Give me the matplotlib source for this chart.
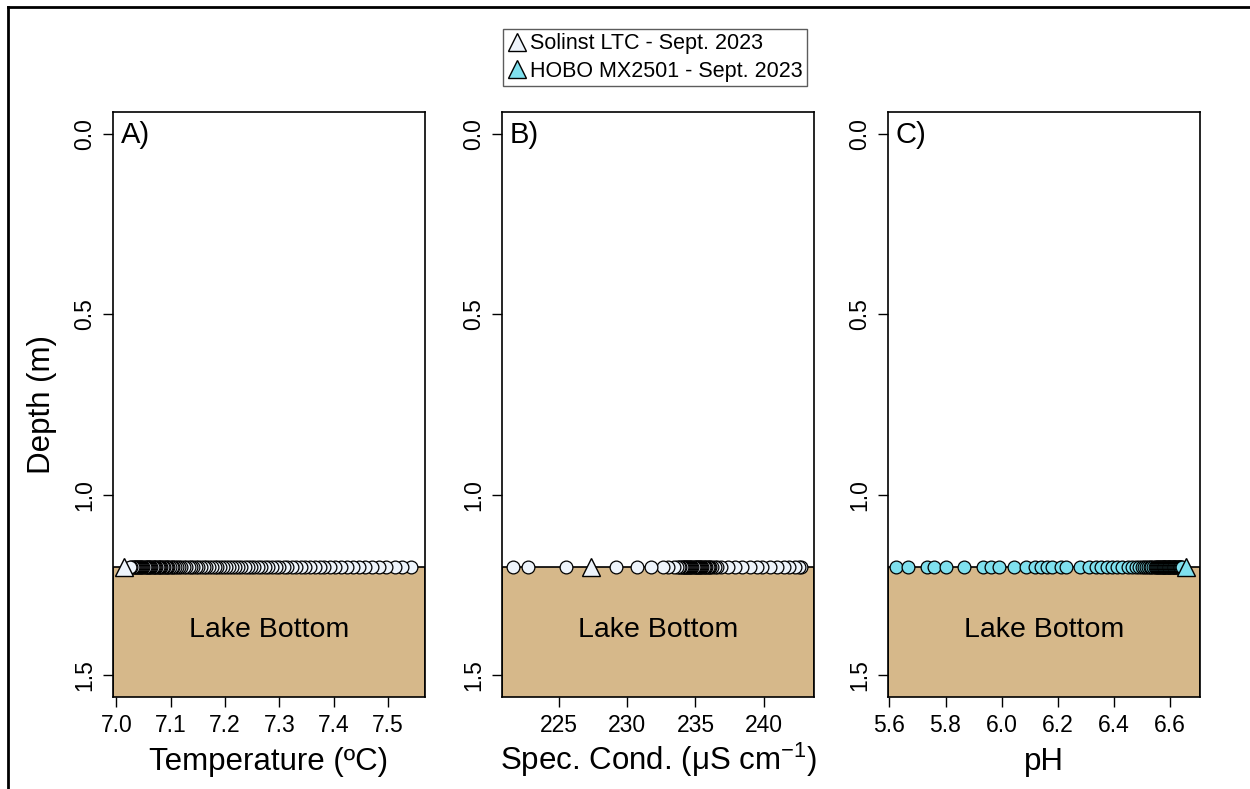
import matplotlib
matplotlib.use('Agg')
import matplotlib.pyplot as plt
from matplotlib.lines import Line2D

plt.rcParams['font.family'] = ['Liberation Sans', 'DejaVu Sans']
plt.rcParams['mathtext.fontset'] = 'custom'
plt.rcParams['mathtext.rm'] = 'Liberation Sans'
plt.rcParams['mathtext.it'] = 'Liberation Sans:italic'

# logger depth (m) and lake bottom depth
logger_depth = 1.2
bottom_depth = 1.2

# Solinst LTC readings, temperature (deg C)
temp_circles = [7.542, 7.526, 7.512, 7.497, 7.483, 7.470, 7.458, 7.446, 7.435, 7.424,
                7.413, 7.403, 7.393, 7.383, 7.374, 7.365, 7.356, 7.347, 7.339, 7.331,
                7.323, 7.315, 7.308, 7.300, 7.293, 7.286, 7.279, 7.273, 7.266, 7.260,
                7.254, 7.248, 7.242, 7.236, 7.230, 7.224, 7.219, 7.213, 7.208, 7.202,
                7.197, 7.191, 7.186, 7.181, 7.176, 7.171, 7.166, 7.161, 7.156, 7.151,
                7.147, 7.142, 7.137, 7.133, 7.128, 7.124, 7.120, 7.116, 7.112, 7.108,
                7.105, 7.102, 7.099, 7.096, 7.093, 7.091, 7.088, 7.086, 7.083, 7.081,
                7.078, 7.076, 7.073, 7.071, 7.069, 7.067, 7.064, 7.062, 7.060, 7.058,
                7.056, 7.054, 7.052, 7.050, 7.048, 7.046, 7.044, 7.042, 7.040, 7.038,
                7.036, 7.034, 7.032, 7.030, 7.028, 7.026]
temp_triangle = 7.015

# Solinst LTC readings, specific conductance (uS/cm)
cond_circles = [242.75, 242.6, 242.3, 241.9, 241.5, 241.0, 240.5, 239.9, 239.5, 239.0,
                238.4, 237.9, 237.4, 236.9, 236.6, 236.4, 236.25, 236.1, 236.0, 235.9,
                235.8, 235.7, 235.6, 235.5, 235.42, 235.34, 235.26, 235.18, 235.1, 235.02,
                234.94, 234.86, 234.78, 234.7, 234.62, 234.54, 234.46, 234.38, 234.3,
                234.22, 234.14, 234.06, 233.98, 233.9, 233.8, 233.65, 233.4, 233.0,
                232.6, 231.7, 230.7, 229.2, 225.5, 222.7, 221.6]
cond_triangle = 227.3

# HOBO MX2501 readings, pH
ph_circles = [5.625, 5.665, 5.735, 5.760, 5.800, 5.865, 5.933, 5.962, 5.990, 6.045,
              6.087, 6.120, 6.140, 6.160, 6.180, 6.210, 6.230, 6.280, 6.310, 6.335,
              6.355, 6.375, 6.395, 6.410, 6.430, 6.450, 6.465, 6.478, 6.490, 6.500,
              6.508, 6.515, 6.522, 6.528, 6.534, 6.540, 6.545, 6.550, 6.554, 6.558,
              6.562, 6.565, 6.568, 6.571, 6.574, 6.577, 6.580, 6.583, 6.586, 6.589,
              6.592, 6.595, 6.598, 6.601, 6.604, 6.607, 6.610, 6.613, 6.616, 6.619,
              6.622, 6.625, 6.628, 6.631, 6.634, 6.637, 6.640, 6.643]
ph_triangle = 6.657

solinst_col = '#EEF4FB'
hobo_col = '#7FE0EE'
bottom_col = '#D6B88A'

panels = [
    dict(x=temp_circles, tri=temp_triangle, fill=solinst_col, tri_fill=solinst_col,
         xlim=(6.994, 7.568), ticks=[7.0, 7.1, 7.2, 7.3, 7.4, 7.5],
         labels=['7.0', '7.1', '7.2', '7.3', '7.4', '7.5'],
         xlabel='Temperature (ºC)', tag='A)', left=113),
    dict(x=cond_circles, tri=cond_triangle, fill=solinst_col, tri_fill=solinst_col,
         xlim=(220.8, 243.7), ticks=[225, 230, 235, 240],
         labels=['225', '230', '235', '240'],
         xlabel=r'Spec. Cond. ($\mathrm{\mu}$S cm$^{-1}$)', tag='B)', left=502),
    dict(x=ph_circles, tri=ph_triangle, fill=hobo_col, tri_fill=hobo_col,
         xlim=(5.595, 6.707), ticks=[5.6, 5.8, 6.0, 6.2, 6.4, 6.6],
         labels=['5.6', '5.8', '6.0', '6.2', '6.4', '6.6'],
         xlabel='pH', tag='C)', left=888),
]

W, H = 1250, 789
fig = plt.figure(figsize=(W / 100, H / 100), dpi=100)

for i, p in enumerate(panels):
    ax = fig.add_axes([p['left'] / W, (H - 697) / H, 312 / W, 585 / H])
    ax.axhspan(bottom_depth, 1.7, facecolor=bottom_col, edgecolor='black',
               lw=1.2, zorder=1)
    ax.text(sum(p['xlim']) / 2, 1.375, 'Lake Bottom', ha='center', va='center',
            fontsize=20.5, zorder=2)
    ax.plot(p['x'], [logger_depth] * len(p['x']), 'o', ms=9.2, mfc=p['fill'],
            mec='black', mew=0.9, zorder=3)
    ax.plot([p['tri']], [logger_depth], '^', ms=13, mfc=p['tri_fill'],
            mec='black', mew=1.0, zorder=4)

    ax.set_xlim(*p['xlim'])
    ax.set_ylim(1.56, -0.06)
    ax.set_xticks(p['ticks'])
    ax.set_xticklabels(p['labels'])
    ax.set_yticks([0.0, 0.5, 1.0, 1.5])
    ax.set_yticklabels(['0.0', '0.5', '1.0', '1.5'], rotation=90, va='center')
    ax.tick_params(length=7, width=1, labelsize=16.5, pad=5, colors='black')
    ax.set_xlabel(p['xlabel'], fontsize=22.5)
    ax.xaxis.label.set_va('baseline')
    ax.xaxis.set_label_coords(0.5, -0.125)
    for s in ax.spines.values():
        s.set_linewidth(1.2)
    ax.text(0.025, 0.985, p['tag'], transform=ax.transAxes, ha='left', va='top',
            fontsize=21)
    if i == 0:
        ax.set_ylabel('Depth (m)', fontsize=22.5, labelpad=12)

handles = [
    Line2D([], [], ls='none', marker='^', ms=13, mfc=solinst_col, mec='black', mew=1),
    Line2D([], [], ls='none', marker='^', ms=13, mfc=hobo_col, mec='black', mew=1),
]
leg = fig.legend(handles, ['Solinst LTC - Sept. 2023', 'HOBO MX2501 - Sept. 2023'],
                 loc='center', bbox_to_anchor=(655 / W, 1 - 57.5 / H), fontsize=15.5,
                 frameon=True, fancybox=False, handlelength=0.9, handletextpad=0.15,
                 borderpad=0.2, labelspacing=0.28, borderaxespad=0)
leg.get_frame().set_edgecolor('#333333')
leg.get_frame().set_linewidth(1.0)

# outer frame of the figure
fig.add_artist(Line2D([8 / W, 1], [1 - 7 / H, 1 - 7 / H], transform=fig.transFigure,
                      color='black', lw=2))
fig.add_artist(Line2D([8 / W, 8 / W], [0, 1 - 7 / H], transform=fig.transFigure,
                      color='black', lw=2))

fig.savefig('out.png', dpi=100)
